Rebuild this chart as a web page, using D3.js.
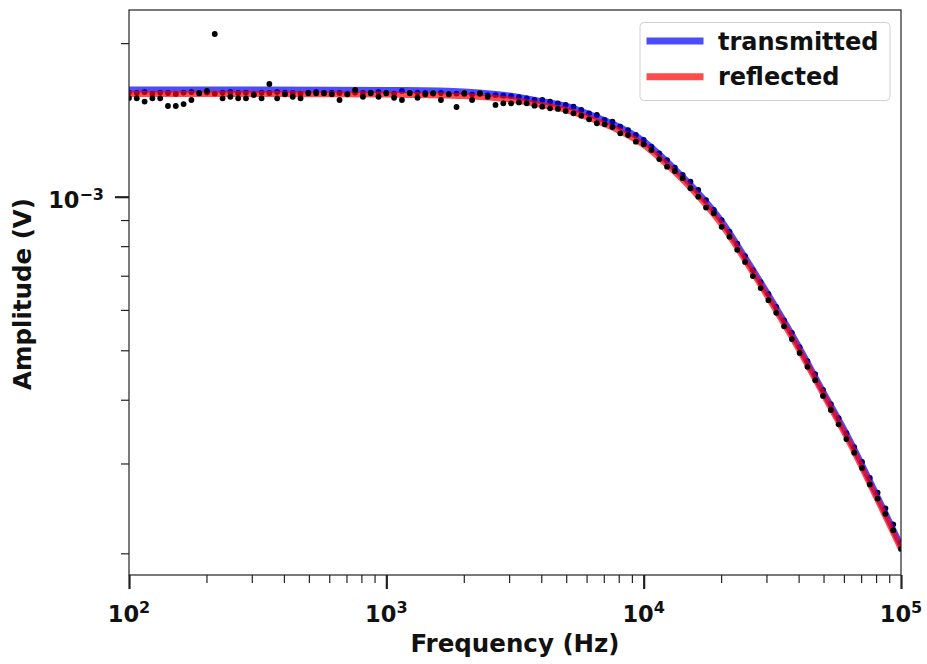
<!DOCTYPE html>
<html>
<head>
<meta charset="utf-8">
<script src="https://cdnjs.cloudflare.com/ajax/libs/d3/7.8.5/d3.min.js"></script>
<style>
  body { margin: 0; background: #fff; }
  svg { display: block; font-family: 'DejaVu Sans', sans-serif; font-weight: bold; }
</style>
</head>
<body>
<svg id="chart" width="927" height="664"></svg>
<script>
// measured frequencies (Hz)
const freq = [
  100, 107.2, 115.0, 123.3, 132.2, 141.7, 152.0, 163.0, 174.8, 187.4,
  200.9, 215.4, 231.0, 247.7, 265.6, 284.8, 305.4, 327.5, 351.1, 376.5,
  403.7, 432.9, 464.2, 497.7, 533.7, 572.2, 613.6, 657.9, 705.5, 756.5,
  811.1, 869.7, 932.6, 1000, 1072, 1150, 1233, 1322, 1417, 1520,
  1630, 1748, 1874, 2009, 2154, 2310, 2477, 2656, 2848, 3054,
  3275, 3511, 3765, 4037, 4329, 4642, 4977, 5337, 5722, 6136,
  6579, 7055, 7565, 8111, 8697, 9326, 10000, 10723, 11498, 12328,
  13219, 14175, 15199, 16298, 17475, 18738, 20092, 21544, 23101, 24771,
  26561, 28480, 30539, 32745, 35112, 37649, 40370, 43288, 46416, 49770,
  53367, 57224, 61359, 65793, 70548, 75646, 81113, 86975, 93260, 100000
];

// measured amplitudes (mV), upper set of points
const ampUpper = [
  1.600, 1.597, 1.604, 1.593, 1.600, 1.597, 1.590, 1.600, 1.604, 1.597,
  1.600, 1.593, 1.600, 1.604, 1.597, 1.600, 1.593, 1.600, 1.597, 1.604,
  1.600, 1.597, 1.593, 1.600, 1.604, 1.597, 1.600, 1.597, 1.593, 1.600,
  1.597, 1.600, 1.604, 1.597, 1.593, 1.612, 1.597, 1.600, 1.597, 1.593,
  1.597, 1.590, 1.593, 1.590, 1.587, 1.590, 1.582, 1.582, 1.578, 1.575,
  1.568, 1.559, 1.547, 1.547, 1.535, 1.524, 1.513, 1.501, 1.479, 1.457,
  1.446, 1.414, 1.403, 1.372, 1.351, 1.321, 1.292, 1.253, 1.216, 1.180,
  1.140, 1.103, 1.070, 1.031, 0.985, 0.942, 0.900, 0.854, 0.809, 0.765,
  0.718, 0.680, 0.645, 0.608, 0.572, 0.541, 0.507, 0.476, 0.449, 0.418,
  0.392, 0.368, 0.344, 0.323, 0.302, 0.281, 0.263, 0.245, 0.228, 0.210
];

// measured amplitudes (mV), lower set of points
const ampLower = [
  1.561, 1.559, 1.536, 1.559, 1.559, 1.506, 1.506, 1.519, 1.547, 1.595,
  1.612, 2.084, 1.559, 1.570, 1.559, 1.559, 1.582, 1.559, 1.663, 1.559,
  1.587, 1.570, 1.559, 1.595, 1.595, 1.595, 1.587, 1.547, 1.587, 1.619,
  1.570, 1.595, 1.570, 1.595, 1.563, 1.547, 1.595, 1.563, 1.587, 1.595,
  1.547, 1.587, 1.499, 1.595, 1.547, 1.595, 1.570, 1.513, 1.524, 1.524,
  1.530, 1.524, 1.508, 1.501, 1.490, 1.486, 1.472, 1.457, 1.441, 1.418,
  1.393, 1.386, 1.370, 1.331, 1.321, 1.282, 1.267, 1.235, 1.185, 1.145,
  1.123, 1.087, 1.039, 1.000, 0.952, 0.928, 0.873, 0.835, 0.787, 0.745,
  0.699, 0.662, 0.627, 0.592, 0.557, 0.526, 0.494, 0.464, 0.437, 0.407,
  0.382, 0.358, 0.335, 0.315, 0.294, 0.273, 0.256, 0.239, 0.222, 0.204
];

// fitted curves (mV)
const fitFreq = [100, 1000, 2000, 3000, 4000, 5000, 6000, 8000, 10000, 13000,
  16000, 20000, 25000, 32000, 40000, 50000, 63000, 80000, 100000];
const fitTransmitted = [1.622, 1.619, 1.608, 1.579, 1.540, 1.506, 1.459, 1.373, 1.286, 1.143,
  1.028, 0.899, 0.756, 0.618, 0.510, 0.414, 0.335, 0.262, 0.207];
const fitReflected = [1.590, 1.586, 1.575, 1.551, 1.513, 1.479, 1.433, 1.348, 1.263, 1.126,
  1.012, 0.884, 0.745, 0.609, 0.503, 0.409, 0.330, 0.258, 0.204];

const xTicks = [1e2, 1e3, 1e4, 1e5];
const xTickExp = ['2', '3', '4', '5'];
const yTicks = [1e-3];
const yTickExp = ['\u22123'];
const seriesNames = ['transmitted', 'reflected'];
const seriesColors = ['#0000ff', '#ff0000'];

const svg = d3.select('#chart');
const plotLeft = 129, plotRight = 901, plotTop = 10, plotBottom = 575;

const x = d3.scaleLog().domain([1e2, 1e5]).range([plotLeft, plotRight]);
const y = d3.scaleLog().domain([1.8136e-4, 2.3224e-3]).range([plotBottom, plotTop]);

svg.append('defs').append('clipPath').attr('id', 'clip')
  .append('rect')
  .attr('x', plotLeft).attr('y', plotTop)
  .attr('width', plotRight - plotLeft).attr('height', plotBottom - plotTop);

const plot = svg.append('g').attr('clip-path', 'url(#clip)');

function drawDots(values) {
  plot.append('g')
    .selectAll('circle')
    .data(freq)
    .join('circle')
      .attr('cx', d => x(d))
      .attr('cy', (d, i) => y(values[i] / 1000))
      .attr('r', 2.9)
      .attr('fill', '#000');
}

// upper points sit under the fit lines, lower ones on top
drawDots(ampUpper);

const line = d3.line()
  .x(d => x(d[0]))
  .y(d => y(d[1] / 1000))
  .curve(d3.curveCatmullRom.alpha(0.5));

[fitTransmitted, fitReflected].forEach((vals, k) => {
  plot.append('path')
    .datum(fitFreq.map((f, i) => [f, vals[i]]))
    .attr('d', line)
    .attr('fill', 'none')
    .attr('stroke', seriesColors[k])
    .attr('stroke-opacity', 0.7)
    .attr('stroke-width', 6);
});

drawDots(ampLower);

// frame
svg.append('rect')
  .attr('x', plotLeft).attr('y', plotTop)
  .attr('width', plotRight - plotLeft).attr('height', plotBottom - plotTop)
  .attr('fill', 'none')
  .attr('stroke', '#222')
  .attr('stroke-width', 1.2);

// minor tick positions
const xMinor = [];
[1e2, 1e3, 1e4].forEach(dec => d3.range(2, 10).forEach(m => xMinor.push(m * dec)));
const yMinor = [];
[1e-4, 1e-3].forEach(dec => d3.range(2, 10).forEach(m => {
  const v = m * dec;
  if (v > y.domain()[0] && v < y.domain()[1]) yMinor.push(v);
}));

function styleAxis(g, w) {
  g.select('.domain').remove();
  g.selectAll('.tick line').attr('stroke', '#222').attr('stroke-width', w);
}

svg.append('g').attr('transform', `translate(0,${plotBottom})`)
  .call(d3.axisBottom(x).tickValues(xMinor).tickSize(8).tickSizeOuter(0).tickFormat(''))
  .call(styleAxis, 1.2);
svg.append('g').attr('transform', `translate(0,${plotBottom})`)
  .call(d3.axisBottom(x).tickValues(xTicks).tickSize(14).tickSizeOuter(0).tickFormat(''))
  .call(styleAxis, 2.2);
svg.append('g').attr('transform', `translate(${plotLeft},0)`)
  .call(d3.axisLeft(y).tickValues(yMinor).tickSize(8).tickSizeOuter(0).tickFormat(''))
  .call(styleAxis, 1.2);
svg.append('g').attr('transform', `translate(${plotLeft},0)`)
  .call(d3.axisLeft(y).tickValues(yTicks).tickSize(14).tickSizeOuter(0).tickFormat(''))
  .call(styleAxis, 2.2);

// tick labels as 10^n
function powerLabel(sel, exps) {
  sel.each(function (d, i) {
    const t = d3.select(this);
    t.append('tspan').text('10');
    t.append('tspan').attr('dy', -8.5).attr('font-size', 16).text(exps[i]);
  });
}

svg.append('g')
  .selectAll('text')
  .data(xTicks)
  .join('text')
    .attr('x', d => x(d))
    .attr('y', 621.5)
    .attr('text-anchor', 'middle')
    .attr('font-size', 22.5)
    .attr('fill', '#111')
    .call(powerLabel, xTickExp);

svg.append('g')
  .selectAll('text')
  .data(yTicks)
  .join('text')
    .attr('x', 104)
    .attr('y', 208)
    .attr('text-anchor', 'end')
    .attr('font-size', 22.5)
    .attr('fill', '#111')
    .call(powerLabel, yTickExp);

// axis titles
svg.append('text')
  .attr('x', (plotLeft + plotRight) / 2)
  .attr('y', 652)
  .attr('text-anchor', 'middle')
  .attr('font-size', 24.5)
  .attr('fill', '#111')
  .text('Frequency (Hz)');

svg.append('text')
  .attr('transform', `translate(31,294) rotate(-90)`)
  .attr('text-anchor', 'middle')
  .attr('font-size', 24.5)
  .attr('fill', '#111')
  .text('Amplitude (V)');

// legend
const legend = svg.append('g');
legend.append('rect')
  .attr('x', 640).attr('y', 22.5)
  .attr('width', 250).attr('height', 78)
  .attr('rx', 4)
  .attr('fill', '#fff').attr('fill-opacity', 0.8)
  .attr('stroke', '#d0d0d0').attr('stroke-width', 1);

const items = legend.selectAll('g.item')
  .data(seriesNames)
  .join('g')
    .attr('class', 'item')
    .attr('transform', (d, i) => `translate(0,${41 + i * 35.7})`);

items.append('line')
  .attr('x1', 646.5).attr('x2', 703.5)
  .attr('stroke', (d, i) => seriesColors[i])
  .attr('stroke-opacity', 0.7)
  .attr('stroke-width', 7);

items.append('text')
  .attr('x', 718)
  .attr('y', 8.5)
  .attr('font-size', 24)
  .attr('fill', '#111')
  .text(d => d);
</script>
</body>
</html>
